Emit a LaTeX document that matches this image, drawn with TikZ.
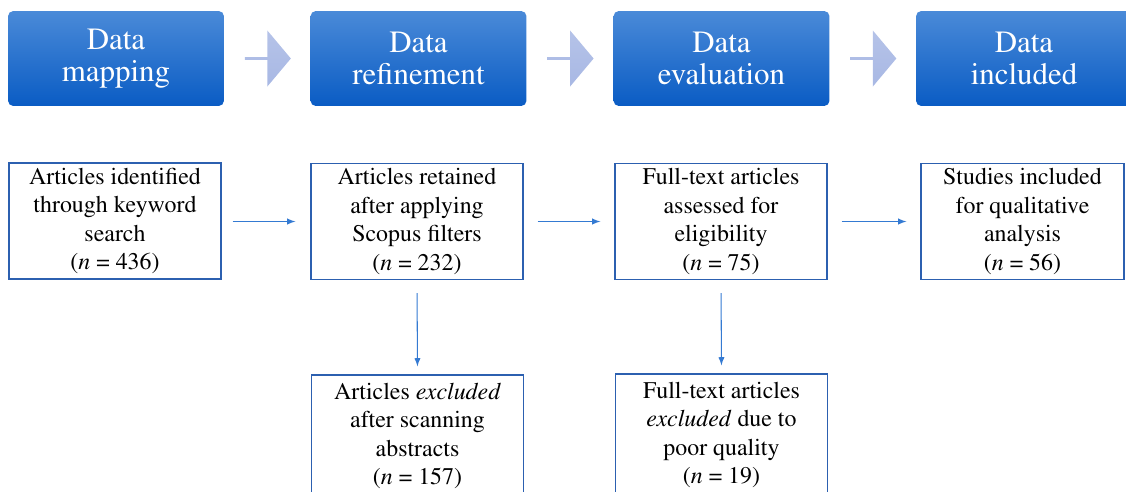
\documentclass[tikz,border=0pt]{standalone}
\usepackage[T1]{fontenc}
\renewcommand{\rmdefault}{ptm}
\usetikzlibrary{calc,shapes.arrows}

\definecolor{headtop}{RGB}{74,138,216}
\definecolor{headbot}{RGB}{10,92,196}
\definecolor{fatarrow}{RGB}{168,184,228}
\definecolor{boxline}{RGB}{44,96,176}
\definecolor{linkline}{RGB}{52,122,210}

\begin{document}
\begin{tikzpicture}[x=0.02cm, y=-0.02cm,
  stage/.style={rounded corners=3pt, top color=headtop, bottom color=headbot,
    minimum width=4.32cm, minimum height=1.9cm, text=white, align=center,
    font=\fontsize{17.6}{18.4}\selectfont},
  flow/.style={single arrow, single arrow head extend=0.13cm, single arrow tip angle=100,
    minimum width=1.12cm, minimum height=0.92cm, inner sep=0pt,
    top color=fatarrow!85, bottom color=fatarrow, draw=none},
  record/.style={draw=boxline, line width=0.8pt, minimum width=4.24cm,
    minimum height=2.32cm, align=center, inner sep=2pt,
    font=\fontsize{13.6}{16.2}\selectfont},
  link/.style={->, >=latex, draw=linkline, line width=0.6pt}]
  % Cadre de la page
  \useasboundingbox (0,0) rectangle (1126,491);

  % Etapes en haut
  \node[stage] (map) at (116,58.5) {Data\\mapping};
  \node[stage] (refine) at (418.5,58.5) {Data\\refinement};
  \node[stage] (eval) at (721.5,58.5) {Data\\evaluation};
  \node[stage] (incl) at (1024,58.5) {Data\\included};

  % Grosses fleches entre les etapes
  \node[flow] (f1) at ($(map.east)!0.5!(refine.west)$) {};
  \node[flow] (f2) at ($(refine.east)!0.5!(eval.west)$) {};
  \node[flow] (f3) at ($(eval.east)!0.5!(incl.west)$) {};

  % Boites du haut
  \node[record] (found) at (115,221) {Articles identified\\through keyword\\search\\(\textit{n} = 436)};
  \node[record] (kept) at (417,221.5) {Articles retained\\after applying\\Scopus filters\\(\textit{n} = 232)};
  \node[record] (assessed) at (721,221.5) {Full-text articles\\assessed for\\eligibility\\(\textit{n} = 75)};
  \node[record, minimum width=4.06cm] (studies) at (1022.5,221.5) {Studies included\\for qualitative\\analysis\\(\textit{n} = 56)};

  % Boites des exclusions (coupees en bas)
  \node[record, minimum height=2.44cm] (exclabs) at (417.5,436) {Articles \textit{excluded}\\after scanning\\abstracts\\(\textit{n} = 157)};
  \node[record, minimum height=2.44cm] (exclqual) at (721.5,435) {Full-text articles\\\textit{excluded} due to\\poor quality\\(\textit{n} = 19)};

  % Fleches fines
  \draw[link, shorten <=0.22cm, shorten >=0.3cm] (found.east |- kept.west) -- (kept.west);
  \draw[link, shorten <=0.28cm, shorten >=0.28cm] (kept.east) -- (assessed.west);
  \draw[link, shorten <=0.28cm, shorten >=0.28cm] (assessed.east) -- (studies.west);
  \draw[link, shorten <=0.26cm, shorten >=0.16cm] (kept.south) -- (exclabs.north);
  \draw[link, shorten <=0.26cm, shorten >=0.16cm] (assessed.south) -- (exclqual.north);
\end{tikzpicture}
\end{document}
